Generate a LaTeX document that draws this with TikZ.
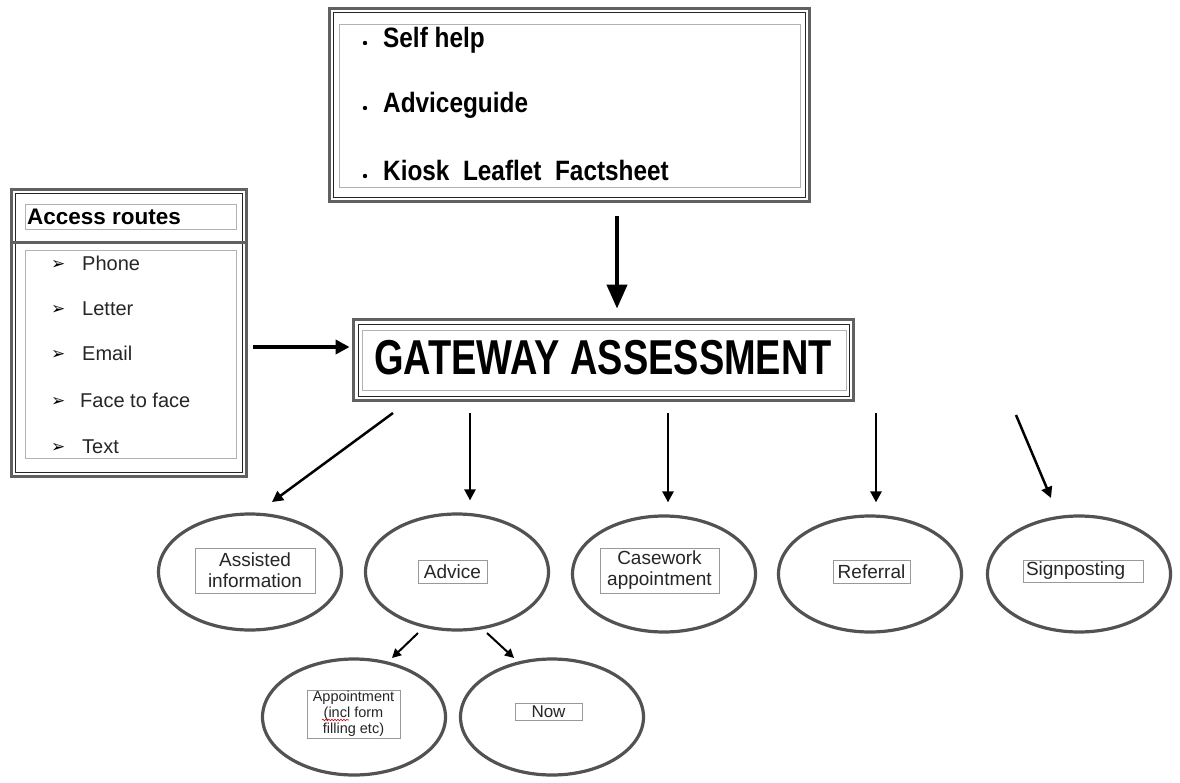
\documentclass[tikz,border=0pt]{standalone}
\usepackage{graphicx}
\usepackage{fontspec}
\setmainfont{Liberation Sans}
\newfontfamily\symfont{DejaVu Sans}
\usetikzlibrary{shapes.geometric,arrows.meta,decorations.pathmorphing}
\tikzset{
  outerframe/.style={draw=black!62, line width=3.8pt, inner sep=0pt},
  innerline/.style={draw=black!85, line width=0.7pt, inner sep=0pt},
  lightbox/.style={draw=black!30, line width=0.8pt, inner sep=0pt},
  toptext/.style={anchor=base west, inner sep=0pt, font=\fontsize{28}{30}\selectfont\bfseries},
  acctext/.style={anchor=base west, inner sep=0pt, font=\fontsize{20}{22}\selectfont, text=black!85},
  accmark/.style={anchor=base west, inner sep=0pt, font=\symfont\fontsize{17}{18}\selectfont},
  oval/.style={ellipse, draw=black!68, line width=3.2pt, minimum width=183pt, minimum height=116pt, inner sep=0pt},
  lab/.style={draw=black!40, line width=0.6pt, fill=white, inner sep=0pt, align=center, text=black!85,
              font=\fontsize{19}{21}\selectfont},
  arrbig/.style={line width=4pt, -{Triangle[length=24pt,width=20pt]}},
  arrh/.style={line width=4pt, -{Triangle[length=14pt,width=14pt]}},
  arrm/.style={line width=2.5pt, -{Triangle[length=11pt,width=11pt]}},
  arrs/.style={line width=2pt, -{Triangle[length=9pt,width=9pt]}},
}
\begin{document}
\begin{tikzpicture}[x=1pt,y=-1pt]
\useasboundingbox[fill=white] (0,0) rectangle (1180,782);

% ---------- top box ----------
\node[outerframe, minimum width=480pt, minimum height=193pt] (tb) at (569.5,105) {};
\node[innerline, minimum width=472pt, minimum height=185pt] (tbi) at (569.5,105) {};
\node[lightbox, minimum width=461pt, minimum height=163pt] (tbl) at (569.5,105.5) {};
\fill (365,43) circle (2.2pt);
\fill (365,108) circle (2.2pt);
\fill (365,176) circle (2.2pt);
\node[toptext] (t1) at (383,47) {\scalebox{0.87}[1]{Self help}};
\node[toptext] (t2) at (383,112) {\scalebox{0.87}[1]{Adviceguide}};
\node[toptext] (t3) at (383,180) {\scalebox{0.87}[1]{Kiosk\ \ Leaflet\ \ Factsheet}};

% ---------- gateway ----------
\node[outerframe, minimum width=500pt, minimum height=81pt] (gw) at (603.5,360) {};
\node[innerline, minimum width=491pt, minimum height=72pt] (gwi) at (603.5,360) {};
\node[lightbox, minimum width=484pt, minimum height=60pt] (gwl) at (604,360) {};
\node[inner sep=0pt, font=\fontsize{49}{50}\selectfont\bfseries] (gwt) at (603,358)
  {\scalebox{0.775}[1]{GATEWAY ASSESSMENT}};

% ---------- access routes ----------
\node[outerframe, minimum width=235pt, minimum height=287pt] (ac) at (129,333) {};
\node[innerline, minimum width=227pt, minimum height=279pt] (aci) at (129,333) {};
\draw[draw=black!62, line width=3pt] (ac.west |- 0,242) coordinate (dvl) -- (ac.east |- 0,242) coordinate (dvr);
\node[lightbox, minimum width=211pt, minimum height=25pt] (ach) at (130.5,216.5) {};
\node[lightbox, minimum width=211pt, minimum height=208pt] (acl) at (130.5,354) {};
\node[anchor=base west, inner sep=0pt, font=\fontsize{22.5}{24}\selectfont\bfseries] (acht) at (27,224) {Access routes};
\node[accmark] (m1) at (51,269) {➢};
\node[accmark] (m2) at (51,314) {➢};
\node[accmark] (m3) at (51,359) {➢};
\node[accmark] (m4) at (51,406) {➢};
\node[accmark] (m5) at (51,452) {➢};
\node[acctext] (a1) at (82,270) {Phone};
\node[acctext] (a2) at (82,315) {Letter};
\node[acctext] (a3) at (82,360) {Email};
\node[acctext] (a4) at (80,407) {Face to face};
\node[acctext] (a5) at (82,453) {Text};

% ---------- ellipses ----------
\node[oval] (ai) at (250,572) {};
\node[oval] (ad) at (457,572) {};
\node[oval] (cw) at (664,574) {};
\node[oval] (rf) at (870,574) {};
\node[oval] (sp) at (1079,574) {};
\node[oval] (ap) at (354,717) {};
\node[oval] (nw) at (552,717) {};

\node[lab, minimum width=120pt, minimum height=45pt] (aiT) at (255,570.5) {Assisted\\information};
\node[lab, minimum width=69pt, minimum height=23pt] (adT) at (452.5,571.5) {Advice};
\node[lab, minimum width=119pt, minimum height=45pt] (cwT) at (659.5,570.5) {Casework\\appointment};
\node[lab, minimum width=77pt, minimum height=23pt] (rfT) at (871.5,571.5) {Referral};
\node[lab, minimum width=120pt, minimum height=22pt, text width=114pt, align=left] (spT) at (1083,571) {Signposting};
\node[lab, minimum width=93pt, minimum height=48pt, font=\fontsize{14.5}{16}\selectfont] (apT) at (353.5,714)
  {Appointment\\(incl form\\filling etc)};
\node[lab, minimum width=67pt, minimum height=17pt, font=\fontsize{17}{18}\selectfont] (nwT) at (548.5,711.5) {Now};
\draw[red!85!black, line width=0.6pt, decorate, decoration={snake, amplitude=0.8pt, segment length=3pt}]
  (322,720) -- (349,720);

% ---------- connectors ----------
\coordinate (xa) at (617,0);
\draw[arrbig, shorten <=13pt, shorten >=9pt] (tb.south -| xa) -- (gw.north -| xa);
\draw[arrh, shorten <=5pt, shorten >=2pt] (ac.east |- 0,347) -- (gw.west |- 0,347);

\coordinate (s1) at (393,413);
\coordinate (e1) at (272,502);
\draw[arrm] (s1) -- (e1);
\coordinate (x2) at (470,0);
\coordinate (x3) at (668,0);
\coordinate (x4) at (876,0);
\draw[arrm, shorten <=11pt, shorten >=12pt] (gw.south -| x2) -- (ad.north -| x2);
\draw[arrm, shorten <=11pt, shorten >=12pt] (gw.south -| x3) -- (cw.north -| x3);
\draw[arrm, shorten <=11pt, shorten >=12pt] (gw.south -| x4) -- (rf.north -| x4);
\coordinate (s5) at (1016,415);
\coordinate (e5) at (1051,498);
\draw[arrm] (s5) -- (e5);

\coordinate (s6) at (418,633);
\coordinate (e6) at (392,658);
\coordinate (s7) at (487,633);
\coordinate (e7) at (514,658);
\draw[arrs] (s6) -- (e6);
\draw[arrs] (s7) -- (e7);
\end{tikzpicture}
\end{document}
